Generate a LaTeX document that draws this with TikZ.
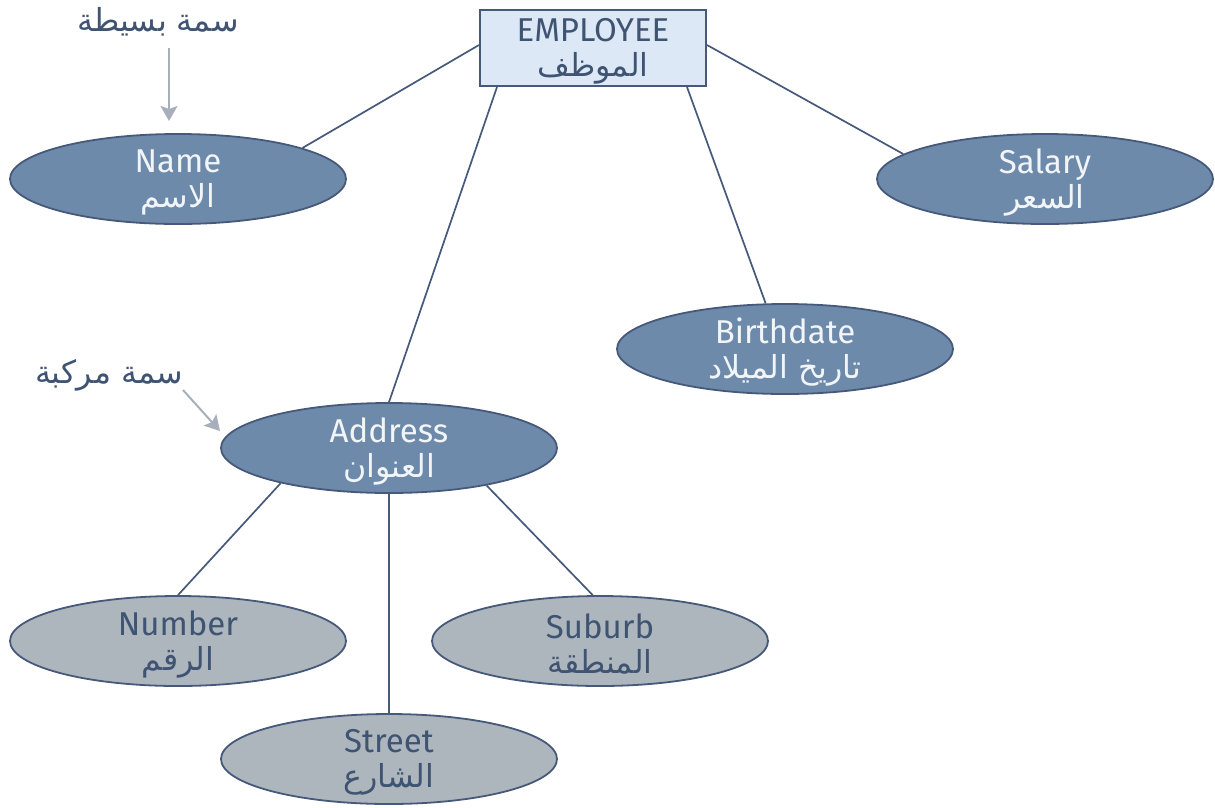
\documentclass[tikz,border=0pt]{standalone}
\usepackage{fontspec}
\setmainfont{Fira Sans}
\newfontfamily\arabicfont[Script=Arabic,Scale=0.96]{DejaVu Sans}
\TeXXeTstate=1
\usetikzlibrary{shapes.geometric,arrows.meta}
\definecolor{boxfill}{HTML}{DCE8F5}
\definecolor{edge}{HTML}{46597A}
\definecolor{darkfill}{HTML}{6E8AAB}
\definecolor{greyfill}{HTML}{AEB6BD}
\definecolor{txtdark}{HTML}{3F5372}
\definecolor{txtlight}{HTML}{F2F5F8}
\definecolor{note}{HTML}{A7B0BA}
\newcommand\artxt[1]{{\arabicfont\beginR #1\endR}}
\begin{document}
\begin{tikzpicture}[x=1pt,y=-1pt,
  every node/.style={font=\fontsize{33}{35}\selectfont, align=center},
  entbox/.style={draw=edge, line width=2pt, fill=boxfill,
    minimum width=226pt, minimum height=76pt, inner sep=0pt},
  attrdark/.style={ellipse, draw=edge, line width=1.8pt, fill=darkfill,
    minimum width=336pt, minimum height=90pt, inner sep=0pt},
  attrgrey/.style={ellipse, draw=edge, line width=1.8pt, fill=greyfill,
    minimum width=336pt, minimum height=90pt, inner sep=0pt},
  lighttext/.style={text=txtlight, inner sep=0pt},
  darktext/.style={text=txtdark, inner sep=0pt},
  link/.style={draw=edge, line width=1.7pt},
  notearrow/.style={draw=note, line width=2pt, -{Stealth[length=15pt,width=17pt,inset=3pt]}},
  notetext/.style={text=txtdark}
]
\useasboundingbox (0,0) rectangle (1215,807);

\node[entbox] (emp) at (593,48) {};
\node[darktext] (empT) at (593,51) {EMPLOYEE\\\artxt{الموظف}};
\node[attrdark] (name) at (178,179) {};
\node[lighttext] (nameT) at (178,182) {Name\\\artxt{الاسم}};
\node[attrdark] (salary) at (1045,179) {};
\node[lighttext] (salaryT) at (1045,182) {Salary\\\artxt{السعر}};
\node[attrdark] (birth) at (785,349) {};
\node[lighttext] (birthT) at (785,352) {Birthdate\\\artxt{تاريخ الميلاد}};
\node[attrdark] (addr) at (389,448) {};
\node[lighttext] (addrT) at (389,451) {Address\\\artxt{العنوان}};
\node[attrgrey] (number) at (178,641) {};
\node[darktext] (numberT) at (178,644) {Number\\\artxt{الرقم}};
\node[attrgrey] (suburb) at (600,641) {};
\node[darktext] (suburbT) at (600,644) {Suburb\\\artxt{المنطقة}};
\node[attrgrey] (street) at (389,759) {};
\node[darktext] (streetT) at (389,762) {Street\\\artxt{الشارع}};

\draw[link] ([yshift=3pt]emp.west) -- (name.14);
\draw[link] ([yshift=3pt]emp.east) -- (salary.170);
\draw[link] ([xshift=18pt]emp.south west) -- (addr.north);
\draw[link] ([xshift=-20pt]emp.south east) -- (birth.113);
\draw[link] (addr.198) -- (number.north);
\draw[link] (addr.south) -- (street.north);
\draw[link] (addr.-21) -- (suburb.99);

\node[notetext] (n1) at (158,22) {\artxt{سمة بسيطة}};
\node[notetext] (n2) at (109,375) {\artxt{سمة مركبة}};
\coordinate (n1start) at (169,48);
\coordinate (n1end) at (169,121);
\coordinate (n2start) at (183,390);
\coordinate (n2end) at (220,431);
\draw[notearrow] (n1start) -- (n1end);
\draw[notearrow] (n2start) -- (n2end);
\end{tikzpicture}
\end{document}
